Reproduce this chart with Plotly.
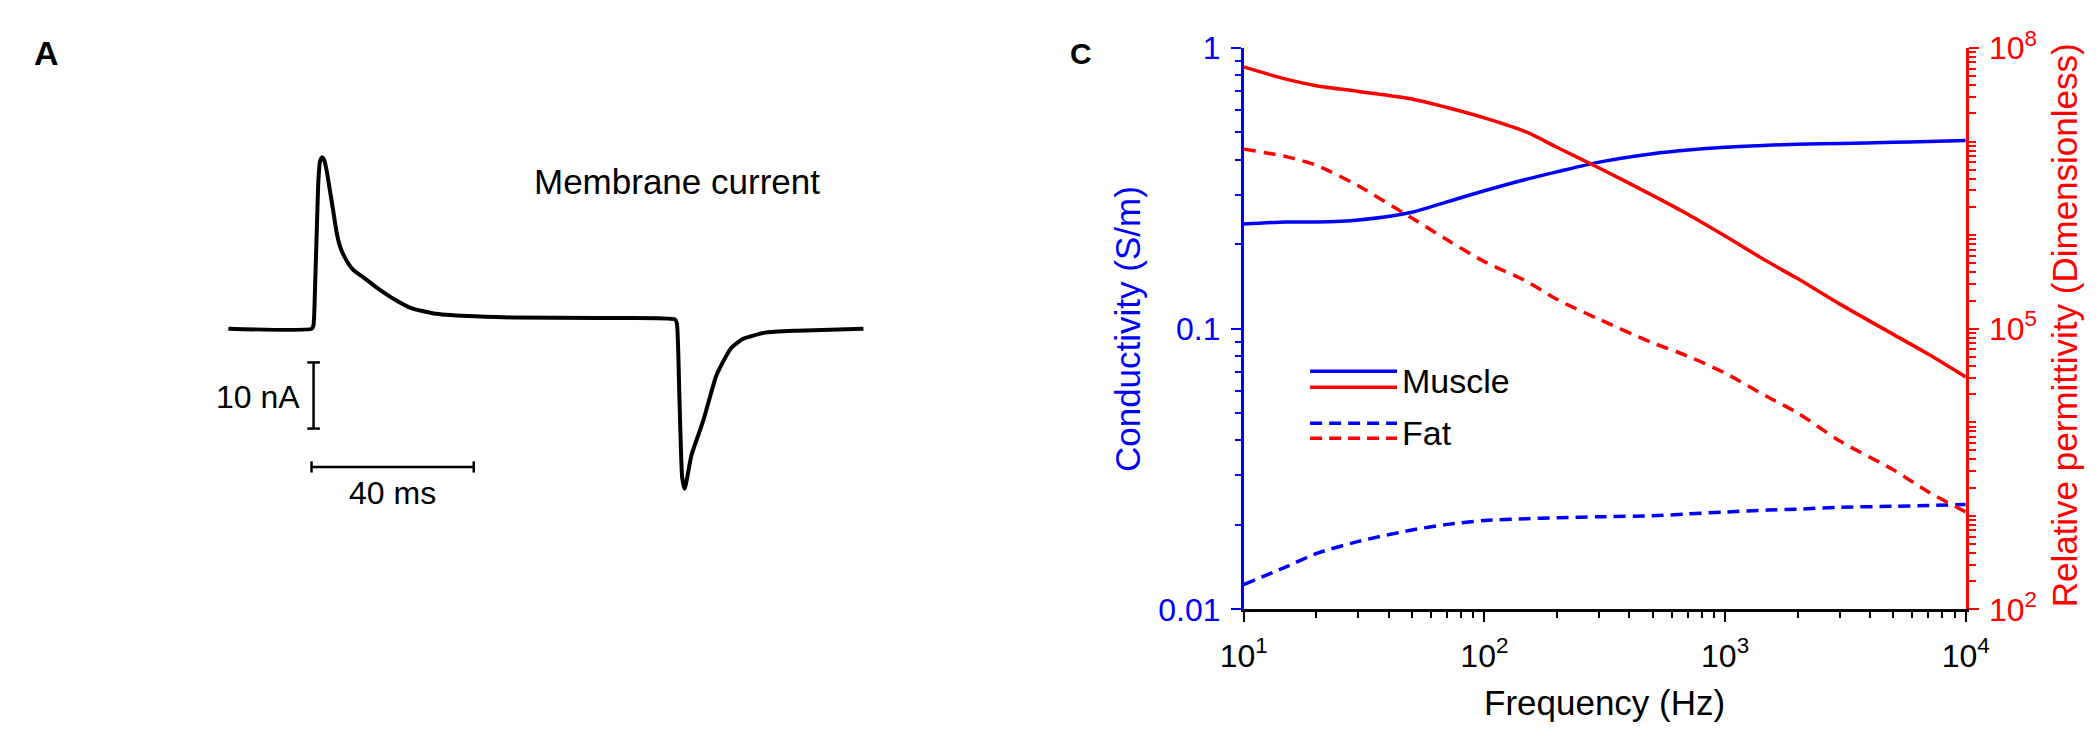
import plotly.graph_objects as go

W, H = 2100, 730

# ---------------- Panel A : membrane current ----------------
membrane_time_ms = [0, 20.6, 21.0, 21.4, 21.8, 22.2, 22.6, 23.1, 23.6, 24.2, 25.0, 25.8, 26.7,
                    27.6, 28.6, 30.6, 33.6, 36.6, 41.0, 45.1, 50.6, 59.0, 69.9, 91.3, 110.1,
                    110.6, 111.2, 111.9, 112.5, 114.2, 117.1, 120.2, 121.9, 123.9, 126.7,
                    132.3, 140.2, 156.6]
membrane_current_nA = [0, 0, 0.6, 7.0, 15.0, 22.5, 25.3, 25.9, 25.5, 24.0, 21.0, 18.0, 14.5,
                       12.3, 10.9, 9.0, 7.6, 6.2, 4.4, 3.1, 2.3, 1.9, 1.7, 1.6, 1.4,
                       0.8, -10.0, -22.5, -24.2, -19.1, -13.9, -7.3, -5.1, -3.0, -1.6,
                       -0.6, -0.3, 0]
scalebar_time_ms = [20.5, 60.5]        # 40 ms bar
scalebar_time_level_nA = -20.9
scalebar_current_nA = [-15.1, -5.1]    # 10 nA bar
scalebar_current_at_ms = 21.0

# ---------------- Panel C : dielectric properties ----------------
frequency_hz = [10, 15, 20, 30, 50, 70, 100, 150, 200, 300, 500, 700, 1000, 1500, 2000,
                3000, 5000, 7000, 10000]
muscle_conductivity = [0.236, 0.240, 0.240, 0.244, 0.260, 0.283, 0.310, 0.341, 0.362, 0.392,
                       0.420, 0.433, 0.443, 0.450, 0.454, 0.457, 0.461, 0.464, 0.468]
fat_conductivity = [0.01225, 0.01418, 0.01580, 0.01747, 0.01918, 0.02009, 0.02072, 0.02104,
                    0.02122, 0.02138, 0.02155, 0.02189, 0.02223, 0.02259, 0.02276, 0.02311,
                    0.02330, 0.02346, 0.02364]
muscle_permittivity = [6.28e7, 4.64e7, 3.95e7, 3.43e7, 2.85e7, 2.31e7, 1.79e7, 1.26e7, 8.69e6,
                       5.21e6, 2.66e6, 1.67e6, 9.77e5, 5.21e5, 3.43e5, 1.83e5, 8.69e4, 5.33e4,
                       3.05e4]
fat_permittivity = [8.30e6, 6.89e6, 5.58e6, 3.35e6, 1.52e6, 8.90e5, 5.21e5, 3.20e5, 2.06e5,
                    1.26e5, 7.05e4, 5.09e4, 3.35e4, 1.87e4, 1.26e4, 6.30e3, 3.10e3, 1.80e3,
                    1.10e3]

x_ticks = [10, 100, 1000, 10000]
x_ticktext = ["10<sup>1</sup>", "10<sup>2</sup>", "10<sup>3</sup>", "10<sup>4</sup>"]
cond_ticks = [0.01, 0.1, 1]
cond_ticktext = ["0.01", "0.1", "1"]
perm_ticks = [1e2, 1e5, 1e8]
perm_ticktext = ["10<sup>2</sup>", "10<sup>5</sup>", "10<sup>8</sup>"]
perm_unlabelled_decades = [1e3, 1e4, 1e6, 1e7]

BLUE = "#0000FF"
RED = "#FF0000"
FONT = "Liberation Sans, Arial, sans-serif"


def minor_vals(lo_exp, hi_exp):
    return [m * 10 ** e for e in range(lo_exp, hi_exp) for m in range(2, 10)]


def px(x):
    return x / W


def py(y):
    return 1 - y / H


fig = go.Figure()

# Panel A traces
fig.add_trace(go.Scatter(x=membrane_time_ms, y=membrane_current_nA, mode="lines",
                         line=dict(color="black", width=4, shape="spline", smoothing=0.5),
                         xaxis="x2", yaxis="y3", showlegend=False, name="Membrane current"))
fig.add_trace(go.Scatter(x=[scalebar_current_at_ms, scalebar_current_at_ms], y=scalebar_current_nA,
                         mode="lines+markers", line=dict(color="black", width=2.5),
                         marker=dict(symbol="line-ew-open", size=9, line=dict(width=2.5, color="black")),
                         xaxis="x2", yaxis="y3", showlegend=False))
fig.add_trace(go.Scatter(x=scalebar_time_ms, y=[scalebar_time_level_nA] * 2,
                         mode="lines+markers", line=dict(color="black", width=2.5),
                         marker=dict(symbol="line-ns-open", size=8, line=dict(width=2.5, color="black")),
                         xaxis="x2", yaxis="y3", showlegend=False))

# Panel C traces
spl = dict(shape="spline", smoothing=0.8)
fig.add_trace(go.Scatter(x=frequency_hz, y=muscle_conductivity, mode="lines", name="Muscle σ",
                         line=dict(color=BLUE, width=3.5, **spl), xaxis="x", yaxis="y", showlegend=False))
fig.add_trace(go.Scatter(x=frequency_hz, y=fat_conductivity, mode="lines", name="Fat σ",
                         line=dict(color=BLUE, width=3.5, dash="12px,7px", **spl), xaxis="x", yaxis="y",
                         showlegend=False))
fig.add_trace(go.Scatter(x=frequency_hz, y=muscle_permittivity, mode="lines", name="Muscle ε",
                         line=dict(color=RED, width=3.5, **spl), xaxis="x", yaxis="y2", showlegend=False))
fig.add_trace(go.Scatter(x=frequency_hz, y=fat_permittivity, mode="lines", name="Fat ε",
                         line=dict(color=RED, width=3.5, dash="12px,8px", **spl), xaxis="x", yaxis="y2",
                         showlegend=False))

fig.update_layout(
    width=W, height=H,
    margin=dict(l=0, r=0, t=0, b=0),
    paper_bgcolor="white", plot_bgcolor="rgba(0,0,0,0)",
    font=dict(family=FONT, size=32, color="black"),
    showlegend=False,
    xaxis=dict(domain=[px(1240), px(1979)], type="log", range=[1, 4], anchor="y",
               tickmode="array", tickvals=x_ticks, ticktext=x_ticktext,
               ticks="outside", ticklen=10, tickwidth=2, tickcolor="black",
               showline=True, linecolor="black", linewidth=2.5, showgrid=False, zeroline=False,
               tickfont=dict(family=FONT, size=32, color="black"), ticklabelstandoff=6,
               minor=dict(tickmode="array", tickvals=minor_vals(1, 4), ticks="outside",
                          ticklen=6, tickwidth=2, tickcolor="black", showgrid=False)),
    yaxis=dict(domain=[py(613), py(19)], type="log", range=[-2, 0], anchor="x",
               tickmode="array", tickvals=cond_ticks, ticktext=cond_ticktext,
               ticks="outside", ticklen=10, tickwidth=2, tickcolor=BLUE,
               showline=True, linecolor=BLUE, linewidth=2.5, showgrid=False, zeroline=False,
               tickfont=dict(family=FONT, size=32, color=BLUE), ticklabelstandoff=4,
               minor=dict(tickmode="array", tickvals=minor_vals(-2, 0), ticks="outside",
                          ticklen=6, tickwidth=2, tickcolor=BLUE, showgrid=False)),
    yaxis2=dict(type="log", range=[2, 8], overlaying="y", side="right", anchor="x",
                tickmode="array", tickvals=perm_ticks, ticktext=perm_ticktext,
                ticks="outside", ticklen=10, tickwidth=2, tickcolor=RED,
                showline=True, linecolor=RED, linewidth=2.5, showgrid=False, zeroline=False,
                tickfont=dict(family=FONT, size=32, color=RED), ticklabelstandoff=4,
                minor=dict(tickmode="array", tickvals=minor_vals(2, 8) + perm_unlabelled_decades,
                           ticks="outside", ticklen=7, tickwidth=2, tickcolor=RED, showgrid=False)),
    xaxis2=dict(domain=[0, px(1000)], range=[(0 - 201) / 4.15, (1000 - 201) / 4.15],
                visible=False, anchor="y3"),
    yaxis3=dict(domain=[0, 1], range=[-(730 - 316) / 7, 316 / 7], visible=False, anchor="x2"),
)

# Legend drawn by hand (two sample lines per entry)
legend_lines = [(361, BLUE, "solid"), (378, RED, "solid"), (416, BLUE, "12px,7px"), (432, RED, "12px,7px")]
for yy, col, dsh in legend_lines:
    fig.add_shape(type="line", xref="paper", yref="paper", x0=px(1308), x1=px(1397),
                  y0=py(yy), y1=py(yy), line=dict(color=col, width=3.5, dash=dsh))

ann = []


def add_text(text, x, y, size, color="black", xanchor="left", angle=0, bold=False, xref="paper", yref="paper"):
    if bold:
        text = "<b>" + text + "</b>"
    ann.append(dict(text=text, x=x, y=y, xref=xref, yref=yref, xanchor=xanchor, yanchor="middle",
                    showarrow=False, textangle=angle, font=dict(family=FONT, size=size, color=color)))


add_text("A", px(0), py(24), 34, bold=True)
add_text("C", px(1060), py(25), 30, bold=True)
add_text("Muscle", px(1400), py(371), 34)
add_text("Fat", px(1400), py(426), 34)
add_text("Frequency (Hz)", px(1609), py(711), 35, xanchor="center")
add_text("Conductivity (S/m)", px(1121), py(316), 35, color=BLUE, xanchor="center", angle=-90)
add_text("Relative permittivity (Dimensionless)", px(2080), py(312), 35, color=RED, xanchor="center", angle=-90)
add_text("Membrane current", (512 - 201) / 4.15, -(160 - 316) / 7, 35, xref="x2", yref="y3")
add_text("10 nA", (276 - 201) / 4.15, -(388 - 316) / 7, 32, xanchor="right", xref="x2", yref="y3")
add_text("40 ms", (369 - 201) / 4.15, -(490 - 316) / 7, 32, xanchor="center", xref="x2", yref="y3")

fig.update_layout(annotations=ann)
fig.write_html("out.html")
